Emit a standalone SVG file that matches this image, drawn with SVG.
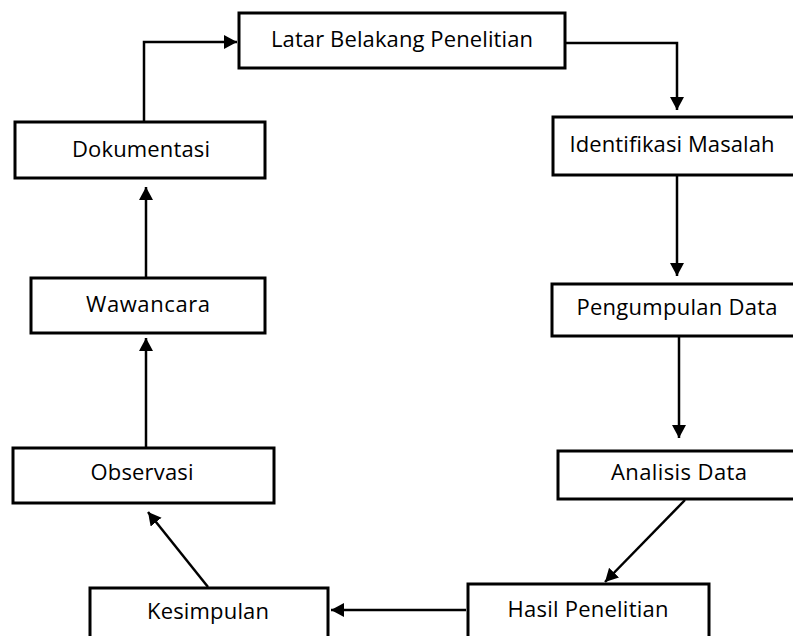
<svg xmlns="http://www.w3.org/2000/svg" width="793" height="636" viewBox="0 0 793 636">
<style>
.box{fill:#fff;stroke:#000;stroke-width:3}
.lbl{font-family:"Open Sans","Liberation Sans",sans-serif;font-size:22px;fill:#000;text-anchor:middle}
.con{fill:none;stroke:#000;stroke-width:2.5}
</style>
<defs>
<marker id="ah" markerUnits="userSpaceOnUse" markerWidth="16" markerHeight="16" refX="13" refY="7" orient="auto">
<path d="M0,0 L13,7 L0,14 z" fill="#000"/>
</marker>
</defs>
<rect width="793" height="636" fill="#fff"/>
<g id="connectors">
<path class="con" d="M566,43 H677 V110" marker-end="url(#ah)"/>
<path class="con" d="M677,176 V276" marker-end="url(#ah)"/>
<path class="con" d="M679,337 V438" marker-end="url(#ah)"/>
<path class="con" d="M685,500 L605,582" marker-end="url(#ah)"/>
<path class="con" d="M466,610 H331" marker-end="url(#ah)"/>
<path class="con" d="M208,587 L148,512" marker-end="url(#ah)"/>
<path class="con" d="M146,447 V338" marker-end="url(#ah)"/>
<path class="con" d="M146,277 V187" marker-end="url(#ah)"/>
<path class="con" d="M144,121 V42 H237" marker-end="url(#ah)"/>
</g>
<g id="latar"><rect class="box" x="239" y="13" width="326" height="55"/><text class="lbl" x="402" y="47" textLength="262">Latar Belakang Penelitian</text></g>
<g id="identifikasi"><rect class="box" x="553" y="117" width="250" height="58"/><text class="lbl" x="672" y="152" textLength="205">Identifikasi Masalah</text></g>
<g id="pengumpulan"><rect class="box" x="552" y="284" width="250" height="52"/><text class="lbl" x="677" y="315" textLength="201">Pengumpulan Data</text></g>
<g id="analisis"><rect class="box" x="558" y="451" width="250" height="48"/><text class="lbl" x="679" y="480" textLength="136">Analisis Data</text></g>
<g id="hasil"><rect class="box" x="468" y="584" width="241" height="60"/><text class="lbl" x="588" y="617" textLength="161">Hasil Penelitian</text></g>
<g id="kesimpulan"><rect class="box" x="90" y="588" width="238" height="60"/><text class="lbl" x="208" y="619" textLength="122">Kesimpulan</text></g>
<g id="observasi"><rect class="box" x="13" y="448" width="261" height="55"/><text class="lbl" x="142" y="480" textLength="103">Observasi</text></g>
<g id="wawancara"><rect class="box" x="31" y="278" width="234" height="55"/><text class="lbl" x="148" y="312" textLength="124">Wawancara</text></g>
<g id="dokumentasi"><rect class="box" x="15" y="122" width="250" height="56"/><text class="lbl" x="141" y="157" textLength="138">Dokumentasi</text></g>
</svg>
